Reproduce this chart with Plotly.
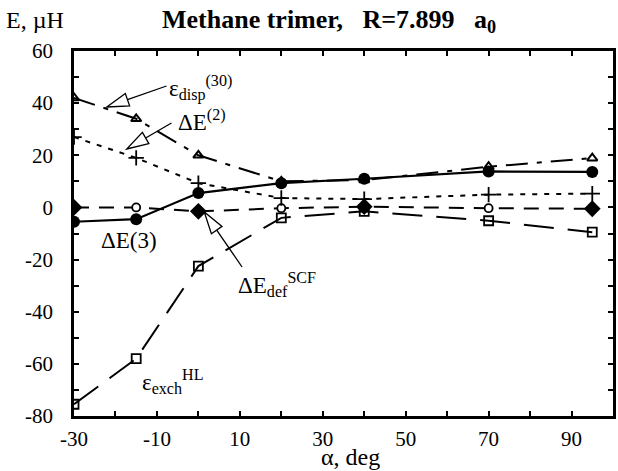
import math
import plotly.graph_objects as go

# Dihedral angle alpha (deg) and energy components (micro-hartree)
alpha = [-30, -15, 0, 20, 40, 70, 95]
dE3 = [-5.5, -4.5, 5.5, 9.3, 11.0, 13.8, 13.6]
eps_disp30 = [42.0, 34.0, 20.0, 10.0, 10.5, 15.6, 18.9]
dE2 = [27.0, 19.0, 9.3, 3.6, 3.2, 4.9, 5.3]
dE_def_scf = [0.0, 0.0, -1.5, -0.3, 0.3, -0.3, -0.5]
eps_exch_hl = [-75.5, -58.0, -22.5, -4.0, -1.5, -5.1, -9.5]

x_ticks = list(range(-30, 101, 10))
x_ticktext = [str(v) if (v + 30) % 20 == 0 and v <= 90 else "" for v in x_ticks]
y_ticks = list(range(-80, 61, 10))
y_ticktext = [str(v) if v % 20 == 0 else "" for v in y_ticks]

W, H = 618, 471
ML, MR, MT, MB = 74, 2, 51, 55
PW, PH = W - ML - MR, H - MT - MB
SERIF = "Liberation Serif"
NB = "\u00a0"


def px(x):
    return (x - ML) / PW


def py(y):
    return (H - MB - y) / PH


fig = go.Figure()

fig.add_trace(go.Scatter(
    x=alpha, y=eps_exch_hl, mode="lines+markers", name="exch",
    line=dict(color="black", width=2, dash="30px,14px"),
    marker=dict(symbol="square-open", size=9, color="black", opacity=1,
                line=dict(width=1.8)),
))
fig.add_trace(go.Scatter(
    x=alpha, y=dE_def_scf, mode="lines+markers", name="def",
    line=dict(color="black", width=2, dash="15px,10px"),
    marker=dict(symbol=["diamond", "circle", "diamond", "circle", "diamond", "circle", "diamond"],
                size=[11, 8, 11, 8, 11, 8, 11],
                color=["#000000", "#ffffff", "#000000", "#ffffff", "#000000", "#ffffff", "#000000"],
                opacity=1,
                line=dict(color="#000000", width=1.8)),
))
fig.add_trace(go.Scatter(
    x=alpha, y=dE2, mode="lines+markers", name="dE2",
    line=dict(color="black", width=2, dash="5px,7px"),
    marker=dict(symbol="cross-thin", size=11, color="black", opacity=1,
                line=dict(color="black", width=1.8)),
))
fig.add_trace(go.Scatter(
    x=alpha, y=eps_disp30, mode="lines+markers", name="disp",
    line=dict(color="black", width=2, dash="22px,9px,5px,9px"),
    marker=dict(symbol="triangle-up-open", size=9, color="black", opacity=1,
                line=dict(width=2)),
))
fig.add_trace(go.Scatter(
    x=alpha, y=dE3, mode="lines+markers", name="dE3",
    line=dict(color="black", width=2.2),
    marker=dict(symbol="circle", size=12, color="black", opacity=1),
))

axis_common = dict(
    showline=True, linecolor="black", linewidth=2.5, mirror="ticks",
    ticks="inside", ticklen=5, tickwidth=1.5, tickcolor="black",
    showgrid=False, zeroline=False,
    tickfont=dict(family=SERIF, size=21, color="black"),
)

fig.update_xaxes(range=[-30, 100], tickmode="array", tickvals=x_ticks,
                 ticktext=x_ticktext, ticklabelstandoff=2, **axis_common)
fig.update_yaxes(range=[-80, 60], tickmode="array", tickvals=y_ticks,
                 ticktext=y_ticktext, ticklabelstandoff=14, **axis_common)

annotations = []
shapes = []


def label(x, y, s, size=22, xanchor="left", yanchor="middle"):
    annotations.append(dict(
        x=px(x), y=py(y), xref="paper", yref="paper", text=s, showarrow=False,
        xanchor=xanchor, yanchor=yanchor,
        font=dict(family=SERIF, size=size, color="black"),
    ))


def arrow(x_tail, y_tail, x_tip, y_tip, head_len=22, head_w=13):
    # hollow arrowhead with a thin shaft
    dx, dy = x_tail - x_tip, y_tail - y_tip
    d = math.hypot(dx, dy)
    ux, uy = dx / d, dy / d
    bx, by = x_tip + ux * head_len, y_tip + uy * head_len
    nx, ny = -uy, ux
    p1 = (bx + nx * head_w / 2, by + ny * head_w / 2)
    p2 = (bx - nx * head_w / 2, by - ny * head_w / 2)
    shapes.append(dict(type="line", xref="paper", yref="paper",
                       x0=px(bx), y0=py(by), x1=px(x_tail), y1=py(y_tail),
                       line=dict(color="black", width=1.3)))
    path = "M {:.5f},{:.5f} L {:.5f},{:.5f} L {:.5f},{:.5f} Z".format(
        px(x_tip), py(y_tip), px(p1[0]), py(p1[1]), px(p2[0]), py(p2[1]))
    shapes.append(dict(type="path", xref="paper", yref="paper", path=path,
                       fillcolor="white", line=dict(color="black", width=1.3)))


# Title and axis captions
title = "Methane trimer," + NB * 3 + "R=7.899" + NB * 3 + "a<sub>0</sub>"
label(160, 21, "<b>" + title + "</b>", size=26)
label(4, 20, "E," + NB + "\u00b5H", size=24)
label(352, 472, "\u03b1," + NB + "deg", size=24, xanchor="center", yanchor="bottom")

# Curve labels
label(168, 88, "\u03b5<sub>disp</sub><sup>(30)</sup>", size=23)
arrow(167, 86, 107, 107)
label(177, 120, "\u0394E<sup>(2)</sup>", size=23)
arrow(172, 123, 127, 149)
label(99, 240, "\u0394E(3)", size=23)
label(237, 284, "\u0394E<sub>def</sub><sup>SCF</sup>", size=23)
arrow(243, 267, 205, 212)
label(140, 381, "\u03b5<sub>exch</sub><sup>HL</sup>", size=23)

fig.update_layout(
    width=W, height=H,
    margin=dict(l=ML, r=MR, t=MT, b=MB),
    plot_bgcolor="white", paper_bgcolor="white",
    font=dict(family=SERIF, color="black"),
    showlegend=False,
    annotations=annotations, shapes=shapes,
)

fig.write_html("out.html")
